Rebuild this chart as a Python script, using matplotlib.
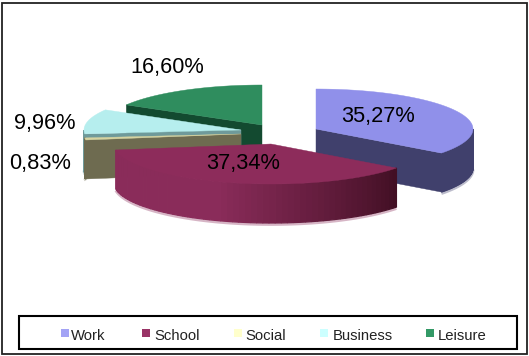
import numpy as np
import matplotlib
matplotlib.use("Agg")
from matplotlib import pyplot as plt
from matplotlib.colors import to_rgb
from matplotlib.patches import Polygon, Rectangle

categories = ["Work", "School", "Social", "Business", "Leisure"]
shares = [35.27, 37.34, 0.83, 9.96, 16.60]

top_colors = ["#9090ea", "#8d2c5b", "#d6d3a0", "#b6eeee", "#2f8d5e"]
side_colors = ["#40406c", "#8a2c5a", "#6e6b50", "#6f9a9a", "#134a30"]
legend_colors = ["#a3a3f5", "#993366", "#ffffcc", "#ccffff", "#339966"]

# centre of each exploded slice, in pixels
apex = {
    "Work": (316, 129),
    "School": (271, 144),
    "Social": (241, 134),
    "Business": (241, 130),
    "Leisure": (262, 125),
}
rx, ry = 157, 40
depth = 39

plt.rcParams["font.family"] = ["Liberation Sans", "DejaVu Sans"]
fig = plt.figure(figsize=(5.29, 3.56), dpi=100)
ax = fig.add_axes([0, 0, 1, 1])
ax.set_xlim(0, 529)
ax.set_ylim(356, 0)
ax.axis("off")


def rim(name, a0, a1, n=80):
    # points on the ellipse, angle clockwise from the top
    t = np.radians(np.linspace(a0, a1, n))
    cx, cy = apex[name]
    return np.column_stack([cx + rx * np.sin(t), cy - ry * np.cos(t)])


def cut_face(name, a, color, z):
    cx, cy = apex[name]
    p = rim(name, a, a, 1)[0]
    pts = [(cx, cy), tuple(p), (p[0], p[1] + depth), (cx, cy + depth)]
    ax.add_patch(Polygon(pts, closed=True, fc=color, ec=color, lw=0.3, zorder=z))


def outer_wall(name, a0, a1, color, z, shade=None):
    # front part of the rim only, split up so it can carry a shading ramp
    a0, a1 = max(a0, 90), min(a1, 270)
    if a1 <= a0:
        return
    edges = np.linspace(a0, a1, 61)
    for i in range(60):
        seg = rim(name, edges[i], edges[i + 1], 4)
        pts = np.vstack([seg, (seg + [0, depth])[::-1]])
        c = color if shade is None else shade(0.5 * (edges[i] + edges[i + 1]))
        ax.add_patch(Polygon(pts, closed=True, fc=c, ec=c, lw=0.9, zorder=z))
    # pale fringe along the bottom edge
    low = rim(name, a0, a1) + [0, depth]
    ax.plot(low[:, 0], low[:, 1] + 1.5, color=color if shade is None else "#8a2c5a",
            lw=2, alpha=0.35, zorder=z - 0.5, solid_capstyle="butt")


def school_shade(a):
    # dark on the right of the front wall, fading out towards the left
    f = np.clip((a - 125) / 75, 0, 1)
    dark = np.array(to_rgb("#3f0e22"))
    light = np.array(to_rgb("#8a2c5a"))
    return tuple(dark + (light - dark) * f)


# slice angles come from the shares
ends = np.cumsum(shares) * 3.6
starts = np.concatenate([[0], ends[:-1]])

draw_order = ["Leisure", "Business", "Social", "Work", "School"]
for z, name in enumerate(draw_order):
    i = categories.index(name)
    a0, a1 = starts[i], ends[i]
    z0 = 2 + z * 3
    outer_wall(name, a0, a1, side_colors[i], z0,
               shade=school_shade if name == "School" else None)
    # whichever straight edge faces the viewer gets a wall
    if name == "Work":
        cut_face(name, a1, side_colors[i], z0)
    elif name in ("Social", "Business", "Leisure"):
        cut_face(name, a0, side_colors[i], z0)
    cx, cy = apex[name]
    top = np.vstack([[cx, cy], rim(name, a0, a1)])
    ax.add_patch(Polygon(top, closed=True, fc=top_colors[i], ec=top_colors[i],
                         lw=0.3, zorder=z0 + 1))

# percentage labels use a decimal comma
label_pos = [(378, 122), (243.5, 168.5), (40.5, 169), (44.5, 129), (167.5, 73)]
for value, (x, y) in zip(shares, label_pos):
    ax.text(x, y, f"{value:.2f}%".replace(".", ","), fontsize=15.7, color="black",
            ha="center", va="baseline", zorder=30)

# outer frame and legend box
ax.add_patch(Rectangle((1.7, 2.7), 525.5, 351.3, fc="none", ec="#222222", lw=1.3, zorder=40))
ax.add_patch(Rectangle((19, 316), 498, 33, fc="none", ec="black", lw=1.5, zorder=40))

swatch_x = [61, 142, 234, 320, 426]
text_x = [71, 154, 245, 333, 438]
for name, color, sx, tx in zip(categories, legend_colors, swatch_x, text_x):
    ax.add_patch(Rectangle((sx, 328.5), 8, 8, fc=color, ec="none", zorder=41))
    ax.text(tx, 340, name, fontsize=10.7, color="#222222", ha="left", va="baseline", zorder=41)

fig.savefig("out.png", dpi=100)
